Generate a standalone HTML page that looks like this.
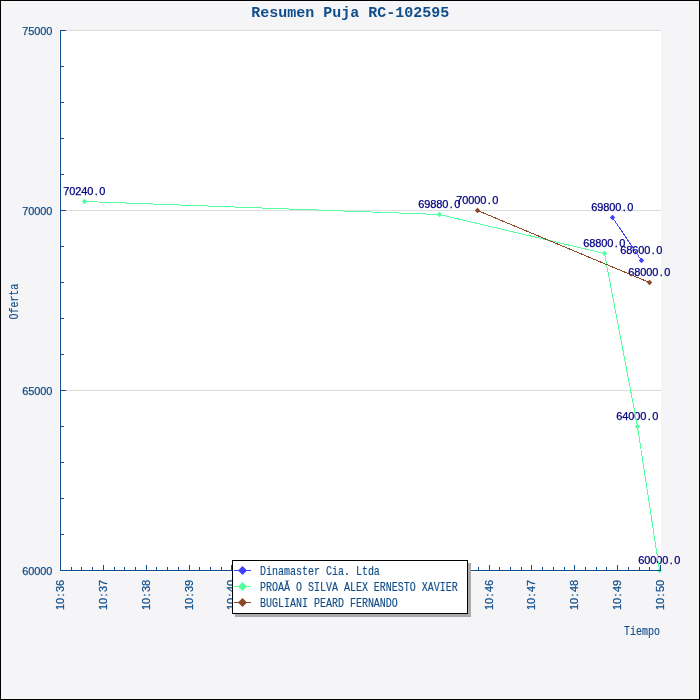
<!DOCTYPE html>
<html lang="es"><head><meta charset="utf-8"><title>Resumen Puja RC-102595</title>
<style>html,body{margin:0;padding:0;background:#f5f5f7;overflow:hidden}svg{display:block}text{font-family:"Liberation Mono","DejaVu Sans Mono",monospace;white-space:pre}.s{font-size:12px;stroke-width:.15px}.n{stroke-width:.25px;font-family:"Liberation Sans","DejaVu Sans",sans-serif;font-size:11px}.t{font-size:15px;font-weight:bold}</style></head><body>
<svg width="700" height="700" viewBox="0 0 700 700">
<rect x="0" y="0" width="700" height="700" fill="#f5f5f7"/>
<rect x="0.5" y="0.5" width="699" height="699" fill="none" stroke="#000" stroke-width="1" shape-rendering="crispEdges"/>
<rect x="59" y="30" width="602" height="542" fill="#fff" shape-rendering="crispEdges"/>
<g shape-rendering="crispEdges" stroke="#dcdcdc" stroke-width="1">
<line x1="61" y1="30.5" x2="661" y2="30.5"/>
<line x1="61" y1="210.5" x2="661" y2="210.5"/>
<line x1="61" y1="390.5" x2="661" y2="390.5"/>
</g>
<text class="n" fill="#000080" stroke="#000080" transform="translate(591.3 211)" x="-0.06 5.94 11.94 17.94 23.94 31.47 35.94">69800.0</text>
<text class="n" fill="#000080" stroke="#000080" transform="translate(620.3 254)" x="-0.06 5.94 11.94 17.94 23.94 31.47 35.94">68600.0</text>
<text class="n" fill="#000080" stroke="#000080" transform="translate(63.3 195)" x="-0.06 5.94 11.94 17.94 23.94 31.47 35.94">70240.0</text>
<text class="n" fill="#000080" stroke="#000080" transform="translate(418.3 208)" x="-0.06 5.94 11.94 17.94 23.94 31.47 35.94">69880.0</text>
<text class="n" fill="#000080" stroke="#000080" transform="translate(583.3 247)" x="-0.06 5.94 11.94 17.94 23.94 31.47 35.94">68800.0</text>
<text class="n" fill="#000080" stroke="#000080" transform="translate(616.3 420)" x="-0.06 5.94 11.94 17.94 23.94 31.47 35.94">64000.0</text>
<text class="n" fill="#000080" stroke="#000080" transform="translate(638.3 564)" x="-0.06 5.94 11.94 17.94 23.94 31.47 35.94">60000.0</text>
<text class="n" fill="#000080" stroke="#000080" transform="translate(456.3 204)" x="-0.06 5.94 11.94 17.94 23.94 31.47 35.94">70000.0</text>
<text class="n" fill="#000080" stroke="#000080" transform="translate(628.3 276)" x="-0.06 5.94 11.94 17.94 23.94 31.47 35.94">68000.0</text>
<text class="n" fill="#104e8b" stroke="#104e8b" transform="translate(22.3 35)" x="-0.06 5.94 11.94 17.94 23.94">75000</text>
<text class="n" fill="#104e8b" stroke="#104e8b" transform="translate(22.3 215)" x="-0.06 5.94 11.94 17.94 23.94">70000</text>
<text class="n" fill="#104e8b" stroke="#104e8b" transform="translate(22.3 395)" x="-0.06 5.94 11.94 17.94 23.94">65000</text>
<text class="n" fill="#104e8b" stroke="#104e8b" transform="translate(22.3 575)" x="-0.06 5.94 11.94 17.94 23.94">60000</text>
<text class="n" fill="#104e8b" stroke="#104e8b" transform="translate(64 610) rotate(-90)" x="-0.06 5.94 13.47 17.94 23.94">10:36</text>
<text class="n" fill="#104e8b" stroke="#104e8b" transform="translate(107 610) rotate(-90)" x="-0.06 5.94 13.47 17.94 23.94">10:37</text>
<text class="n" fill="#104e8b" stroke="#104e8b" transform="translate(150 610) rotate(-90)" x="-0.06 5.94 13.47 17.94 23.94">10:38</text>
<text class="n" fill="#104e8b" stroke="#104e8b" transform="translate(193 610) rotate(-90)" x="-0.06 5.94 13.47 17.94 23.94">10:39</text>
<text class="n" fill="#104e8b" stroke="#104e8b" transform="translate(235 610) rotate(-90)" x="-0.06 5.94 13.47 17.94 23.94">10:40</text>
<text class="n" fill="#104e8b" stroke="#104e8b" transform="translate(278 610) rotate(-90)" x="-0.06 5.94 13.47 17.94 23.94">10:41</text>
<text class="n" fill="#104e8b" stroke="#104e8b" transform="translate(321 610) rotate(-90)" x="-0.06 5.94 13.47 17.94 23.94">10:42</text>
<text class="n" fill="#104e8b" stroke="#104e8b" transform="translate(364 610) rotate(-90)" x="-0.06 5.94 13.47 17.94 23.94">10:43</text>
<text class="n" fill="#104e8b" stroke="#104e8b" transform="translate(407 610) rotate(-90)" x="-0.06 5.94 13.47 17.94 23.94">10:44</text>
<text class="n" fill="#104e8b" stroke="#104e8b" transform="translate(450 610) rotate(-90)" x="-0.06 5.94 13.47 17.94 23.94">10:45</text>
<text class="n" fill="#104e8b" stroke="#104e8b" transform="translate(493 610) rotate(-90)" x="-0.06 5.94 13.47 17.94 23.94">10:46</text>
<text class="n" fill="#104e8b" stroke="#104e8b" transform="translate(535 610) rotate(-90)" x="-0.06 5.94 13.47 17.94 23.94">10:47</text>
<text class="n" fill="#104e8b" stroke="#104e8b" transform="translate(578 610) rotate(-90)" x="-0.06 5.94 13.47 17.94 23.94">10:48</text>
<text class="n" fill="#104e8b" stroke="#104e8b" transform="translate(621 610) rotate(-90)" x="-0.06 5.94 13.47 17.94 23.94">10:49</text>
<text class="n" fill="#104e8b" stroke="#104e8b" transform="translate(664 610) rotate(-90)" x="-0.06 5.94 13.47 17.94 23.94">10:50</text>
<text class="s" fill="#104e8b" stroke="#104e8b" transform="translate(624 635) scale(0.83333 1)">Tiempo</text>
<text class="s" fill="#104e8b" stroke="#104e8b" transform="translate(18.2 319.6) rotate(-90) scale(0.83333 1)">Oferta</text>
<text class="t" fill="#104e8b" x="251.3" y="17">Resumen Puja RC-102595</text>
<polyline points="612.5,217.5 641.5,260.5" fill="none" stroke="#4040ff" stroke-width="1" shape-rendering="crispEdges"/>
<polygon points="609.8,217.5 612.5,214.8 615.2,217.5 612.5,220.2" fill="#4040ff"/>
<polygon points="638.8,260.5 641.5,257.8 644.2,260.5 641.5,263.2" fill="#4040ff"/>
<polyline points="84.5,201.5 439.5,214.5 604.5,253.5 637.5,426.5 659.5,570.5" fill="none" stroke="#54ff9f" stroke-width="1" shape-rendering="crispEdges"/>
<polygon points="81.8,201.5 84.5,198.8 87.2,201.5 84.5,204.2" fill="#54ff9f"/>
<polygon points="436.8,214.5 439.5,211.8 442.2,214.5 439.5,217.2" fill="#54ff9f"/>
<polygon points="601.8,253.5 604.5,250.8 607.2,253.5 604.5,256.2" fill="#54ff9f"/>
<polygon points="634.8,426.5 637.5,423.8 640.2,426.5 637.5,429.2" fill="#54ff9f"/>
<polygon points="656.8,570.5 659.5,567.8 662.2,570.5 659.5,573.2" fill="#54ff9f"/>
<polyline points="477.5,210.5 649.5,282.5" fill="none" stroke="#8b4726" stroke-width="1" shape-rendering="crispEdges"/>
<polygon points="474.8,210.5 477.5,207.8 480.2,210.5 477.5,213.2" fill="#8b4726"/>
<polygon points="646.8,282.5 649.5,279.8 652.2,282.5 649.5,285.2" fill="#8b4726"/>
<g shape-rendering="crispEdges" stroke="#104e8b" stroke-width="1">
<line x1="60.5" y1="30" x2="60.5" y2="571"/>
<line x1="60" y1="570.5" x2="661" y2="570.5"/>
<line x1="61" y1="570.5" x2="66" y2="570.5"/>
<line x1="61" y1="534.5" x2="64" y2="534.5"/>
<line x1="61" y1="498.5" x2="64" y2="498.5"/>
<line x1="61" y1="462.5" x2="64" y2="462.5"/>
<line x1="61" y1="426.5" x2="64" y2="426.5"/>
<line x1="61" y1="390.5" x2="66" y2="390.5"/>
<line x1="61" y1="354.5" x2="64" y2="354.5"/>
<line x1="61" y1="318.5" x2="64" y2="318.5"/>
<line x1="61" y1="282.5" x2="64" y2="282.5"/>
<line x1="61" y1="246.5" x2="64" y2="246.5"/>
<line x1="61" y1="210.5" x2="66" y2="210.5"/>
<line x1="61" y1="174.5" x2="64" y2="174.5"/>
<line x1="61" y1="138.5" x2="64" y2="138.5"/>
<line x1="61" y1="102.5" x2="64" y2="102.5"/>
<line x1="61" y1="66.5" x2="64" y2="66.5"/>
<line x1="61" y1="30.5" x2="66" y2="30.5"/>
<line x1="60.5" y1="570" x2="60.5" y2="565"/>
<line x1="71.5" y1="570" x2="71.5" y2="567"/>
<line x1="81.5" y1="570" x2="81.5" y2="567"/>
<line x1="92.5" y1="570" x2="92.5" y2="567"/>
<line x1="103.5" y1="570" x2="103.5" y2="565"/>
<line x1="114.5" y1="570" x2="114.5" y2="567"/>
<line x1="124.5" y1="570" x2="124.5" y2="567"/>
<line x1="135.5" y1="570" x2="135.5" y2="567"/>
<line x1="146.5" y1="570" x2="146.5" y2="565"/>
<line x1="156.5" y1="570" x2="156.5" y2="567"/>
<line x1="167.5" y1="570" x2="167.5" y2="567"/>
<line x1="178.5" y1="570" x2="178.5" y2="567"/>
<line x1="189.5" y1="570" x2="189.5" y2="565"/>
<line x1="199.5" y1="570" x2="199.5" y2="567"/>
<line x1="210.5" y1="570" x2="210.5" y2="567"/>
<line x1="221.5" y1="570" x2="221.5" y2="567"/>
<line x1="231.5" y1="570" x2="231.5" y2="565"/>
<line x1="242.5" y1="570" x2="242.5" y2="567"/>
<line x1="253.5" y1="570" x2="253.5" y2="567"/>
<line x1="264.5" y1="570" x2="264.5" y2="567"/>
<line x1="274.5" y1="570" x2="274.5" y2="565"/>
<line x1="285.5" y1="570" x2="285.5" y2="567"/>
<line x1="296.5" y1="570" x2="296.5" y2="567"/>
<line x1="306.5" y1="570" x2="306.5" y2="567"/>
<line x1="317.5" y1="570" x2="317.5" y2="565"/>
<line x1="328.5" y1="570" x2="328.5" y2="567"/>
<line x1="339.5" y1="570" x2="339.5" y2="567"/>
<line x1="349.5" y1="570" x2="349.5" y2="567"/>
<line x1="360.5" y1="570" x2="360.5" y2="565"/>
<line x1="371.5" y1="570" x2="371.5" y2="567"/>
<line x1="381.5" y1="570" x2="381.5" y2="567"/>
<line x1="392.5" y1="570" x2="392.5" y2="567"/>
<line x1="403.5" y1="570" x2="403.5" y2="565"/>
<line x1="414.5" y1="570" x2="414.5" y2="567"/>
<line x1="424.5" y1="570" x2="424.5" y2="567"/>
<line x1="435.5" y1="570" x2="435.5" y2="567"/>
<line x1="446.5" y1="570" x2="446.5" y2="565"/>
<line x1="456.5" y1="570" x2="456.5" y2="567"/>
<line x1="467.5" y1="570" x2="467.5" y2="567"/>
<line x1="478.5" y1="570" x2="478.5" y2="567"/>
<line x1="489.5" y1="570" x2="489.5" y2="565"/>
<line x1="499.5" y1="570" x2="499.5" y2="567"/>
<line x1="510.5" y1="570" x2="510.5" y2="567"/>
<line x1="521.5" y1="570" x2="521.5" y2="567"/>
<line x1="531.5" y1="570" x2="531.5" y2="565"/>
<line x1="542.5" y1="570" x2="542.5" y2="567"/>
<line x1="553.5" y1="570" x2="553.5" y2="567"/>
<line x1="564.5" y1="570" x2="564.5" y2="567"/>
<line x1="574.5" y1="570" x2="574.5" y2="565"/>
<line x1="585.5" y1="570" x2="585.5" y2="567"/>
<line x1="596.5" y1="570" x2="596.5" y2="567"/>
<line x1="606.5" y1="570" x2="606.5" y2="567"/>
<line x1="617.5" y1="570" x2="617.5" y2="565"/>
<line x1="628.5" y1="570" x2="628.5" y2="567"/>
<line x1="639.5" y1="570" x2="639.5" y2="567"/>
<line x1="649.5" y1="570" x2="649.5" y2="567"/>
<line x1="660.5" y1="570" x2="660.5" y2="565"/>
</g>
<rect x="235" y="563" width="236" height="54" fill="#aaaaaa" shape-rendering="crispEdges"/>
<rect x="232.5" y="560.5" width="235" height="53" fill="#fff" stroke="#000" stroke-width="1" shape-rendering="crispEdges"/>
<line x1="234" y1="570.5" x2="251" y2="570.5" stroke="#4040ff" stroke-width="1" shape-rendering="crispEdges"/>
<polygon points="238,570.5 242.5,566 247,570.5 242.5,575" fill="#4040ff"/>
<text class="s" fill="#104e8b" stroke="#104e8b" transform="translate(260 575) scale(0.83333 1)">Dinamaster Cia. Ltda</text>
<line x1="234" y1="586.5" x2="251" y2="586.5" stroke="#54ff9f" stroke-width="1" shape-rendering="crispEdges"/>
<polygon points="238,586.5 242.5,582 247,586.5 242.5,591" fill="#54ff9f"/>
<text class="s" fill="#104e8b" stroke="#104e8b" transform="translate(260 591) scale(0.83333 1)">PROAĂ O SILVA ALEX ERNESTO XAVIER</text>
<line x1="234" y1="602.5" x2="251" y2="602.5" stroke="#8b4726" stroke-width="1" shape-rendering="crispEdges"/>
<polygon points="238,602.5 242.5,598 247,602.5 242.5,607" fill="#8b4726"/>
<text class="s" fill="#104e8b" stroke="#104e8b" transform="translate(260 607) scale(0.83333 1)">BUGLIANI PEARD FERNANDO</text>
</svg></body></html>
